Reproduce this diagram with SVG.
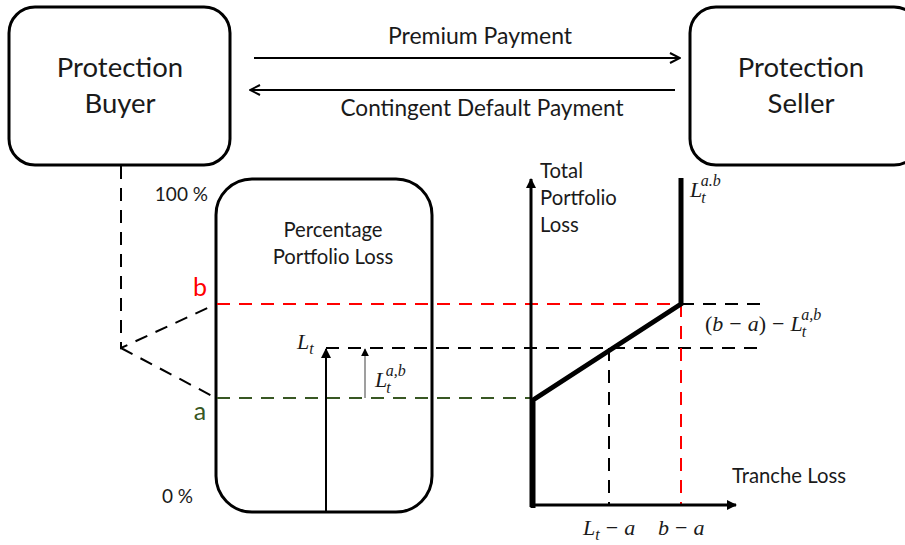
<svg xmlns="http://www.w3.org/2000/svg" width="905" height="545" viewBox="0 0 905 545">
<style>
.box{fill:#fff;stroke:#000;stroke-width:3}
.lbl{font-family:Lato,"Open Sans","Liberation Sans",sans-serif;fill:#1a1a1a}
.math{font-family:"Liberation Serif","DejaVu Serif",serif;font-style:italic;fill:#1a1a1a}
.up{font-style:normal}
.dash{fill:none;stroke-width:2;stroke-dasharray:13 9}
</style>
<defs>
<marker id="open" viewBox="0 0 12 12" refX="11" refY="6" markerWidth="12" markerHeight="12" markerUnits="userSpaceOnUse" orient="auto">
<path d="M1,1 L11,6 L1,11" fill="none" stroke="#000" stroke-width="2"/>
</marker>
<marker id="tri" viewBox="0 0 10 10" refX="9" refY="5" markerWidth="10" markerHeight="10" markerUnits="userSpaceOnUse" orient="auto">
<path d="M0,0 L10,5 L0,10 Z" fill="#000"/>
</marker>
<marker id="tris" viewBox="0 0 10 10" refX="9" refY="5" markerWidth="8" markerHeight="8" markerUnits="userSpaceOnUse" orient="auto">
<path d="M0,0 L10,5 L0,10 Z" fill="#000"/>
</marker>
</defs>

<g id="buyer">
<rect class="box" x="9" y="7" width="221" height="158" rx="26"/>
<text class="lbl" x="120" y="77" font-size="27.5" text-anchor="middle">Protection</text>
<text class="lbl" x="120" y="113" font-size="27.5" text-anchor="middle">Buyer</text>
</g>
<g id="seller">
<rect class="box" x="690" y="7" width="230" height="158" rx="26"/>
<text class="lbl" x="801" y="77" font-size="27.5" text-anchor="middle">Protection</text>
<text class="lbl" x="801" y="113" font-size="27.5" text-anchor="middle">Seller</text>
</g>
<g id="portfolio">
<rect class="box" x="216" y="179" width="216" height="333" rx="36"/>
<text class="lbl" x="333" y="237" font-size="20.3" text-anchor="middle">Percentage</text>
<text class="lbl" x="333" y="264" font-size="20.3" text-anchor="middle">Portfolio Loss</text>
</g>

<g id="connectors">
<line x1="254" y1="58" x2="680" y2="58" stroke="#000" stroke-width="2" marker-end="url(#open)"/>
<line x1="675" y1="90" x2="250" y2="90" stroke="#000" stroke-width="2" marker-end="url(#open)"/>
<path class="dash" stroke="#000" d="M121,166 V348 L216,304 M121,348 L216,398"/>
<line class="dash" stroke="#ff0000" x1="217" y1="304" x2="681" y2="304"/>
<line class="dash" stroke="#000" x1="681" y1="304" x2="760" y2="304"/>
<line class="dash" stroke="#385723" x1="217" y1="398" x2="531" y2="398"/>
<line class="dash" stroke="#000" x1="326" y1="348" x2="760" y2="348"/>
<line class="dash" stroke="#000" x1="609" y1="348" x2="609" y2="505"/>
<line class="dash" stroke="#ff0000" x1="681" y1="304" x2="681" y2="505"/>
<line x1="326" y1="512" x2="326" y2="349" stroke="#000" stroke-width="2" marker-end="url(#tri)"/>
<line x1="365" y1="398" x2="365" y2="349" stroke="#7f7f7f" stroke-width="1.5" marker-end="url(#tris)"/>
<line x1="531" y1="507" x2="531" y2="179" stroke="#000" stroke-width="3" marker-end="url(#tri)"/>
<line x1="530" y1="505" x2="736" y2="505" stroke="#000" stroke-width="3" marker-end="url(#tri)"/>
<path d="M533,508 V400 L681,304 V178" fill="none" stroke="#000" stroke-width="5"/>
</g>

<text class="lbl" x="480" y="44" font-size="23" text-anchor="middle">Premium Payment</text>
<text class="lbl" x="482" y="116" font-size="22.6" text-anchor="middle">Contingent Default Payment</text>
<text class="lbl" x="208" y="201" font-size="19" text-anchor="end">100 %</text>
<text class="lbl" x="193" y="503" font-size="19" text-anchor="end">0 %</text>
<text class="lbl" x="200" y="296" font-size="25" text-anchor="middle" style="fill:#ff0000">b</text>
<text class="lbl" x="200" y="420" font-size="25" text-anchor="middle" style="fill:#385723">a</text>
<text class="lbl" x="540" y="178" font-size="20.3">Total</text>
<text class="lbl" x="540" y="205" font-size="20.3">Portfolio</text>
<text class="lbl" x="540" y="232" font-size="20.3">Loss</text>
<text class="lbl" x="732" y="483" font-size="20.3">Tranche Loss</text>

<text class="math" x="297" y="349" font-size="22">L<tspan font-size="16" dy="5">t</tspan></text>
<text class="math" x="375" y="387" font-size="22">L<tspan font-size="16" dx="-1" dy="6">t</tspan><tspan font-size="16" dx="-5" dy="-17">a,b</tspan></text>
<text class="math" x="690" y="197" font-size="22">L<tspan font-size="16" dx="-1" dy="6">t</tspan><tspan font-size="16" dx="-5" dy="-17">a.b</tspan></text>
<text class="math" x="705" y="331" font-size="22"><tspan class="up">(</tspan>b<tspan class="up" dx="6">−</tspan><tspan dx="6">a</tspan><tspan class="up">)</tspan><tspan class="up" dx="6">−</tspan><tspan dx="6">L</tspan><tspan font-size="16" dx="-1" dy="6">t</tspan><tspan font-size="16" dx="-5" dy="-17">a,b</tspan></text>
<text class="math" x="583" y="535" font-size="22">L<tspan font-size="16" dy="5">t</tspan><tspan class="up" dx="6" dy="-5">−</tspan><tspan dx="6">a</tspan></text>
<text class="math" x="658" y="535" font-size="22">b<tspan class="up" dx="6">−</tspan><tspan dx="6">a</tspan></text>
</svg>
